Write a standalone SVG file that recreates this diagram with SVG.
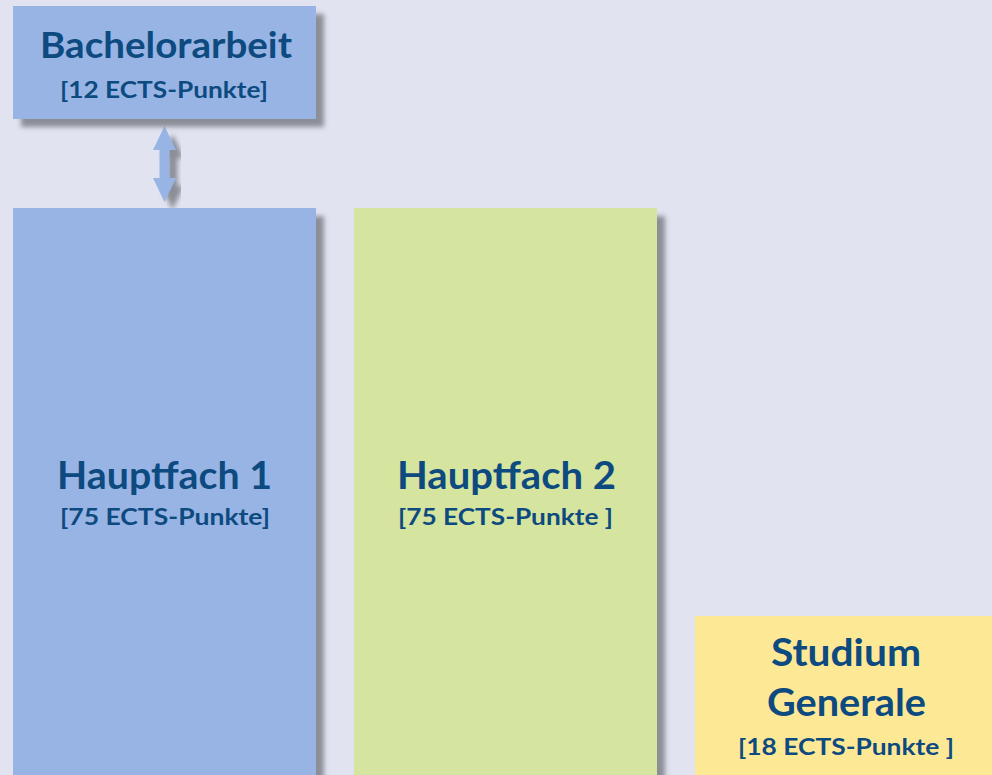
<svg xmlns="http://www.w3.org/2000/svg" width="992" height="775" viewBox="0 0 992 775">
<defs>
<filter id="sh" x="-10%" y="-10%" width="130%" height="130%">
<feGaussianBlur in="SourceAlpha" stdDeviation="2.5"/>
<feOffset dx="8" dy="8" result="b"/>
<feFlood flood-color="#7d7f88" flood-opacity="0.85"/>
<feComposite in2="b" operator="in"/>
<feMerge><feMergeNode/><feMergeNode in="SourceGraphic"/></feMerge>
</filter>
<style>
.t{font-family:Lato,"Open Sans","Liberation Sans",sans-serif;font-weight:bold;fill:#0d4a80;text-anchor:middle}
.h{font-size:38px}
.s{font-size:22px}
</style>
</defs>
<rect width="992" height="775" fill="#e1e4f0"/>
<g id="connectors">
<path d="M164.5 126 L176 150 L169.5 150 L169.5 178 L176 178 L164.5 202 L153 178 L159.5 178 L159.5 150 L153 150 Z" fill="#98b4e4" filter="url(#sh)"/>
</g>
<g id="bachelorarbeit">
<rect x="13" y="6" width="303" height="113" fill="#98b4e4" filter="url(#sh)"/>
<text class="t h" x="166" y="58" style="font-size:36px" textLength="252" lengthAdjust="spacingAndGlyphs">Bachelorarbeit</text>
<text class="t s" x="164" y="98" textLength="208" lengthAdjust="spacingAndGlyphs">[12 ECTS-Punkte]</text>
</g>
<g id="hauptfach1">
<rect x="13" y="208" width="303" height="580" fill="#98b4e4" filter="url(#sh)"/>
<text class="t h" x="164.5" y="489" textLength="215" lengthAdjust="spacingAndGlyphs">Hauptfach 1</text>
<text class="t s" x="165" y="525" textLength="210" lengthAdjust="spacingAndGlyphs">[75 ECTS-Punkte]</text>
</g>
<g id="hauptfach2">
<rect x="354" y="208" width="303" height="580" fill="#d5e49e" filter="url(#sh)"/>
<text class="t h" x="506.5" y="489" textLength="219" lengthAdjust="spacingAndGlyphs">Hauptfach 2</text>
<text class="t s" x="505.5" y="525" textLength="215" lengthAdjust="spacingAndGlyphs">[75 ECTS-Punkte ]</text>
</g>
<g id="studiumgenerale">
<rect x="695" y="616" width="310" height="170" fill="#fde896" filter="url(#sh)"/>
<text class="t h" x="846" y="666" textLength="150" lengthAdjust="spacingAndGlyphs">Studium</text>
<text class="t h" x="846.5" y="716" textLength="159" lengthAdjust="spacingAndGlyphs">Generale</text>
<text class="t s" x="846" y="755" textLength="216" lengthAdjust="spacingAndGlyphs">[18 ECTS-Punkte ]</text>
</g>
</svg>
